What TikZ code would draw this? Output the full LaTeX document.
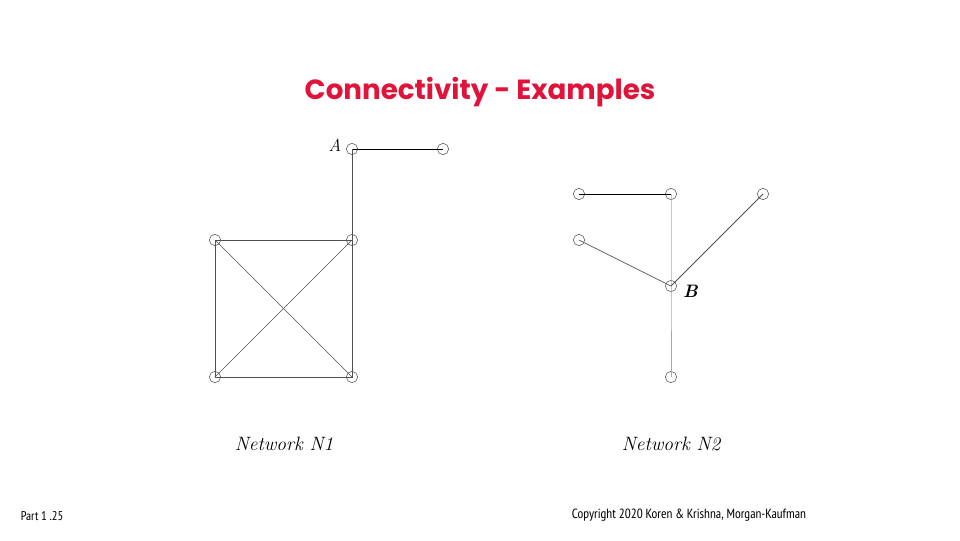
\documentclass[tikz,border=0pt]{standalone}
\usepackage{fontspec}
\usepackage{tikz}
\usetikzlibrary{positioning}
\newfontfamily\titulofonte{Poppins}
\newfontfamily\rodapefonte{PT Sans Narrow}
\definecolor{vermelho}{HTML}{E0143A}
\definecolor{aresta}{HTML}{505050}
\definecolor{arestaclara}{HTML}{A8A8A8}
\definecolor{anelcor}{HTML}{606060}
\tikzset{
  no/.style={circle,draw=anelcor,line width=0.45pt,minimum size=8.5pt,inner sep=0pt},
  liga/.style={aresta,line width=0.6pt},
  rotulo/.style={font=\fontsize{14.5}{15}\selectfont\itshape}
}

\begin{document}
\begin{tikzpicture}[x=0.75pt,y=-0.75pt]
      \useasboundingbox (0,0) rectangle (960,540);
      \node[text=vermelho,font=\titulofonte\bfseries\fontsize{20.8}{21}\selectfont] (titulo) at (480,92) {Connectivity - Examples};
      % rede N1
      \node[no] (A) at (352,149) {};
      \node[no] (a2) at (443,149) {};
      \node[no] (q1) at (215,240) {};
      \node[no] (q2) at (352,240) {};
      \node[no] (q3) at (215,377) {};
      \node[no] (q4) at (352,377) {};
      \draw[black,line width=0.7pt] (A.center) -- (a2.center);
      \draw[liga] (A.center) -- (q2.center);
      \draw[liga] (q1.center) -- (q2.center) -- (q4.center) -- (q3.center) -- (q1.center);
      \draw[liga,line width=0.45pt] (q1.center) -- (q4.center);
      \draw[liga,line width=0.45pt] (q2.center) -- (q3.center);
      \node[font=\fontsize{13}{13}\selectfont\itshape,left=0pt of A,yshift=3pt] (rotA) {A};
      % rede N2
      \node[no] (m1) at (579,194) {};
      \node[no] (m2) at (671,194) {};
      \node[no] (m3) at (763,194) {};
      \node[no] (m4) at (579,240) {};
      \node[no] (B) at (671,286) {};
      \node[no] (m5) at (671,377) {};
      \draw[black,line width=0.7pt] (m1.center) -- (m2.center);
      \draw[arestaclara,line width=0.6pt] (m2.center) -- (B.center) -- (m5.center);
      \draw[liga,line width=0.5pt] (m4.center) -- (B.center);
      \draw[liga] (B.center) -- (m3.center);
      \node[font=\fontsize{13.5}{14}\selectfont\itshape\bfseries,right=1pt of B,yshift=-4pt] (rotB) {B};
      % legendas
      \node[rotulo] (legN1) at (284,444) {Network N1};
      \node[rotulo] (legN2) at (671,444) {Network N2};
      \node[font=\rodapefonte\fontsize{9.5}{10}\selectfont] (parte) at (42,516) {Part 1 .25};
      \node[font=\rodapefonte\fontsize{10}{10}\selectfont] (direitos) at (689,515) {Copyright\ 2020 Koren \& Krishna, Morgan-Kaufman};
    \end{tikzpicture}
\end{document}
